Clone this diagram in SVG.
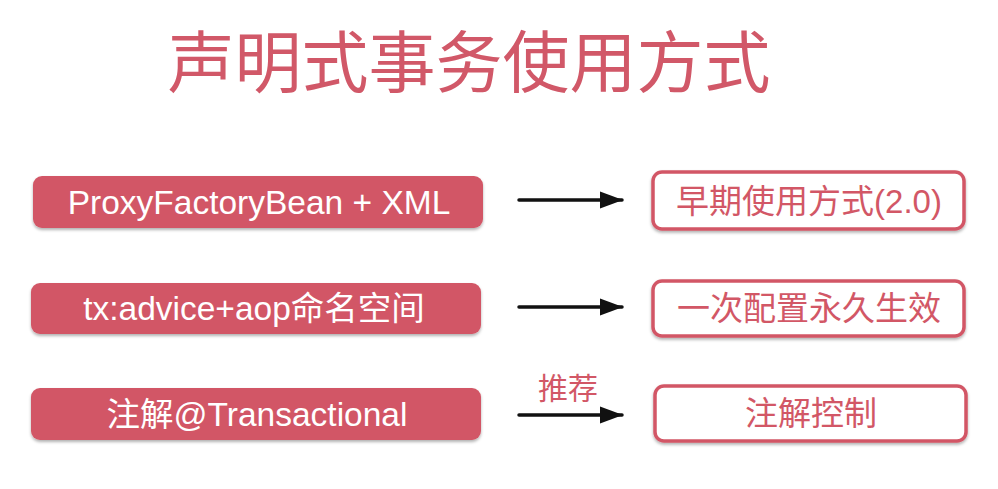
<svg xmlns="http://www.w3.org/2000/svg" width="998" height="489" viewBox="0 0 998 489">
<defs>
<filter id="sh" x="-5%" y="-20%" width="110%" height="150%">
<feDropShadow dx="0" dy="2" stdDeviation="1.5" flood-color="#000" flood-opacity="0.3"/>
</filter>
<marker id="ah" markerWidth="24" markerHeight="20" refX="22" refY="10" orient="auto" markerUnits="userSpaceOnUse">
<path d="M0,1.5 L23,10 L0,18.5 Z" fill="#111"/>
</marker>
<style>
.lb{fill:#d25766;filter:url(#sh)}
.rb{fill:#fff;stroke:#d25766;stroke-width:3.5;filter:url(#sh)}
.lt{fill:#fff;font-family:"Liberation Sans","Noto Sans CJK SC",sans-serif;font-size:33.5px;text-anchor:middle;dominant-baseline:central}
.rt{fill:#d25766;font-family:"Liberation Sans","Noto Sans CJK SC",sans-serif;font-size:33px;text-anchor:middle;dominant-baseline:central}
.cn{fill:none;stroke:#111;stroke-width:3.5;stroke-linecap:round;marker-end:url(#ah)}
</style>
</defs>
<rect width="998" height="489" fill="#fff"/>
<text x="469" y="87" fill="#d15868" font-family="'Noto Sans CJK SC',sans-serif" font-size="67" text-anchor="middle">声明式事务使用方式</text>
<g id="n1"><rect class="lb" x="33" y="176" width="450" height="52" rx="9"/><text class="lt" x="259" y="202">ProxyFactoryBean + XML</text></g>
<g id="n2"><rect class="lb" x="31" y="283" width="450" height="51" rx="9"/><text class="lt" x="254" y="308">tx:advice+aop命名空间</text></g>
<g id="n3"><rect class="lb" x="31" y="388" width="450" height="52" rx="9"/><text class="lt" x="257" y="414">注解@Transactional</text></g>
<g id="n4"><rect class="rb" x="653" y="172" width="311" height="57" rx="9"/><text class="rt" x="809" y="201">早期使用方式(2.0)</text></g>
<g id="n5"><rect class="rb" x="653" y="281" width="311" height="55" rx="9"/><text class="rt" x="809" y="308">一次配置永久生效</text></g>
<g id="n6"><rect class="rb" x="655" y="386" width="311" height="55" rx="9"/><text class="rt" x="811" y="413">注解控制</text></g>
<g id="connectors">
<line class="cn" x1="519" y1="200" x2="622" y2="200"/>
<line class="cn" x1="519" y1="307" x2="622" y2="307"/>
<line class="cn" x1="519" y1="415" x2="622" y2="415"/>
<text x="568" y="386" fill="#d25766" font-family="'Noto Sans CJK SC',sans-serif" font-size="30" text-anchor="middle" dominant-baseline="central">推荐</text>
</g>
</svg>
